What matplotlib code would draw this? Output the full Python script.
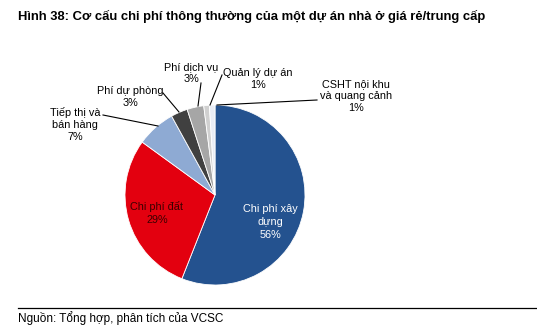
import matplotlib.pyplot as plt

plt.rcParams['font.family'] = ['Liberation Sans', 'DejaVu Sans']

# dữ liệu cơ cấu chi phí (%)
labels = ['Chi phí xây\ndựng\n56%', 'Chi phí đất\n29%', 'Tiếp thị và\nbán hàng\n7%',
          'Phí dự phòng\n3%', 'Phí dịch vụ\n3%', 'Quản lý dự án\n1%',
          'CSHT nội khu\nvà quang cảnh\n1%']
values = [56, 29, 7, 3, 3, 1, 1]
colors = ['#24528f', '#e3000f', '#8eaad3', '#404040', '#a6a6a6', '#d0d0d0', '#e9edf5']

fig = plt.figure(figsize=(5.37, 3.3), dpi=100)
ax = fig.add_axes([0, 0, 1, 1])

H = 330
cx, cy, r = 215, H - 195, 90
wedges, _ = ax.pie(values, colors=colors, startangle=90, counterclock=False,
                   center=(cx, cy), radius=r, frame=True,
                   wedgeprops=dict(edgecolor='white', linewidth=0.6))
ax.set_xlim(0, 537)
ax.set_ylim(0, 330)
ax.set_aspect('equal')
ax.axis('off')

fs = 7.8
# nhãn bên trong
ax.text(270, H - 222, labels[0], color='white', fontsize=fs, ha='center', va='center', linespacing=1.35)
ax.text(157, H - 213, labels[1], color='#3a0000', fontsize=fs, ha='center', va='center', linespacing=1.35)

# nhãn bên ngoài + đường dẫn
outside = [
    (2, (75, 125), (103, 115), (158, 126)),
    (3, (130, 97), (163, 93), (179, 112)),
    (4, (191, 73), (201, 83), (198, 106)),
    (5, (258, 79), (222, 75), (210, 105)),
    (6, (356, 96), (317, 100), (217, 105)),
]
for i, (tx, ty), (x1, y1), (x2, y2) in outside:
    ax.text(tx, H - ty, labels[i], color='black', fontsize=fs, ha='center', va='center', linespacing=1.25)
    ax.plot([x1, x2], [H - y1, H - y2], color='black', lw=0.8)

fig.text(18 / 537, 1 - 16 / 330,
         'Hình 38: Cơ cấu chi phí thông thường của một dự án nhà ở giá rẻ/trung cấp',
         fontsize=9.4, fontweight='bold', ha='left', va='center')
ax.plot([18, 537], [H - 308, H - 308], color='black', lw=0.9)
fig.text(18 / 537, 1 - 318 / 330, 'Nguồn: Tổng hợp, phân tích của VCSC',
         fontsize=8.5, ha='left', va='center')

fig.savefig('out.png', dpi=100)
